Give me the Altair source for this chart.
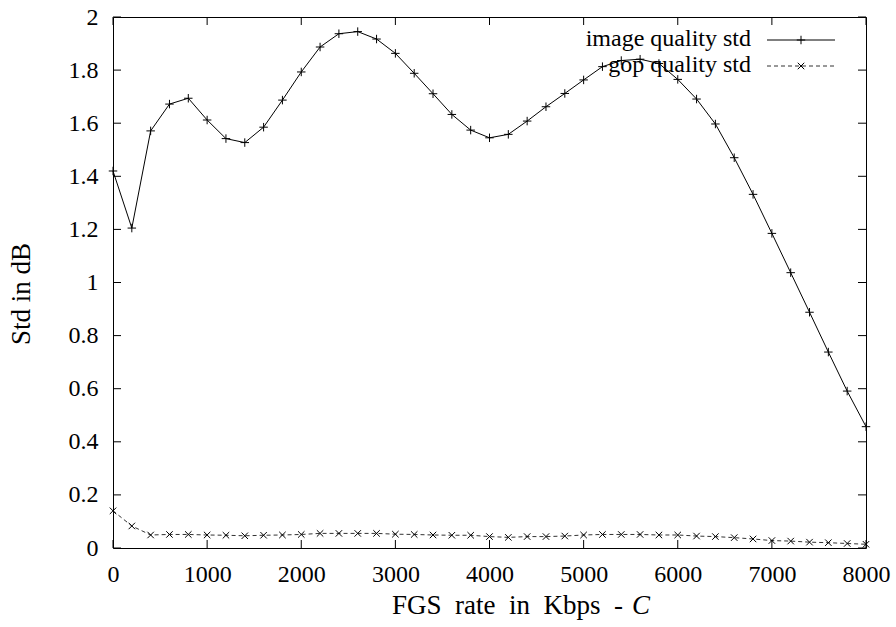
import altair as alt
import pandas as pd

# FGS rate (Kbps), sampled every 200 Kbps
rate = list(range(0, 8001, 200))

image_std = [
    1.42, 1.205, 1.571, 1.672, 1.694, 1.612, 1.542, 1.527, 1.585, 1.687,
    1.793, 1.887, 1.937, 1.945, 1.917, 1.863, 1.788, 1.711, 1.633, 1.574,
    1.545, 1.558, 1.608, 1.662, 1.712, 1.763, 1.813, 1.836, 1.841, 1.825,
    1.765, 1.691, 1.597, 1.470, 1.332, 1.185, 1.037, 0.888, 0.738, 0.591,
    0.457,
]

gop_std = [
    0.140, 0.083, 0.049, 0.051, 0.051, 0.049, 0.048, 0.046, 0.048, 0.049,
    0.051, 0.055, 0.055, 0.055, 0.055, 0.052, 0.051, 0.049, 0.048, 0.048,
    0.043, 0.040, 0.043, 0.043, 0.045, 0.049, 0.051, 0.051, 0.051, 0.049,
    0.049, 0.045, 0.043, 0.039, 0.034, 0.028, 0.026, 0.022, 0.020, 0.017,
    0.014,
]

series_names = ["image quality std", "gop quality std"]

x_ticks = list(range(0, 8001, 1000))
y_ticks = [0, 0.2, 0.4, 0.6, 0.8, 1.0, 1.2, 1.4, 1.6, 1.8, 2.0]

W, H = 753, 531
FONT = "Liberation Serif"
PLUS = "M-1,0L1,0M0,-1L0,1"
CROSS = "M-1,-1L1,1M-1,1L1,-1"
TICK = 8

df = pd.DataFrame({"rate": rate, "image": image_std, "gop": gop_std})
xt = pd.DataFrame({"v": x_ticks})
yt = pd.DataFrame({"v": y_ticks})
one = pd.DataFrame({"k": [0]})

xscale = alt.Scale(domain=[0, 8000], nice=False, zero=False)
yscale = alt.Scale(domain=[0, 2], nice=False, zero=False)

x_axis = alt.Axis(values=x_ticks, format="d", ticks=False, domain=False, grid=False,
                  labelFont=FONT, labelFontSize=24, labelColor="black",
                  labelPadding=14, labelFlush=False, title=None)
y_axis = alt.Axis(values=y_ticks, format="~g", ticks=False, domain=False, grid=False,
                  labelFont=FONT, labelFontSize=24, labelColor="black",
                  labelPadding=15, labelFlush=False, title=None)

base = alt.Chart(df)

img_line = base.mark_line(color="black", strokeWidth=1).encode(
    x=alt.X("rate:Q", scale=xscale, axis=x_axis),
    y=alt.Y("image:Q", scale=yscale, axis=y_axis),
)
img_pts = base.mark_point(shape=PLUS, size=72, filled=False, color="black",
                          strokeWidth=1, opacity=1).encode(
    x=alt.X("rate:Q", scale=xscale), y=alt.Y("image:Q", scale=yscale))

gop_line = base.mark_line(color="#333333", strokeWidth=1, strokeDash=[4, 3]).encode(
    x=alt.X("rate:Q", scale=xscale), y=alt.Y("gop:Q", scale=yscale))
gop_pts = base.mark_point(shape=CROSS, size=42, filled=False, color="black",
                          strokeWidth=1, opacity=1).encode(
    x=alt.X("rate:Q", scale=xscale), y=alt.Y("gop:Q", scale=yscale))

# inward ticks on all four sides of the frame
tick_style = dict(color="black", strokeWidth=1)
ticks_bottom = alt.Chart(xt).mark_rule(**tick_style).encode(
    x=alt.X("v:Q", scale=xscale), y=alt.value(H), y2=alt.value(H - TICK))
ticks_top = alt.Chart(xt).mark_rule(**tick_style).encode(
    x=alt.X("v:Q", scale=xscale), y=alt.value(0), y2=alt.value(TICK))
ticks_left = alt.Chart(yt).mark_rule(**tick_style).encode(
    y=alt.Y("v:Q", scale=yscale), x=alt.value(0), x2=alt.value(TICK))
ticks_right = alt.Chart(yt).mark_rule(**tick_style).encode(
    y=alt.Y("v:Q", scale=yscale), x=alt.value(W), x2=alt.value(W - TICK))


def label(text, size, **kw):
    return alt.Chart(one).mark_text(
        text=text, font=FONT, fontSize=size, fontWeight="normal",
        fill="black", strokeWidth=0, **kw)


# axis titles
NB = "\u00a0"
y_title = label("Std in dB", 27, angle=270, align="center", baseline="middle").encode(
    x=alt.value(-91), y=alt.value(277))
x_title = label(f"FGS{NB}{NB}rate{NB}{NB}in{NB}{NB}Kbps{NB}{NB}-", 27,
                align="right", baseline="alphabetic").encode(
    x=alt.value(510), y=alt.value(597))
x_title_c = label("C", 27, fontStyle="italic", align="left",
                  baseline="alphabetic").encode(x=alt.value(519), y=alt.value(597))

# key in the upper right corner
leg_text_1 = label(series_names[0], 24, align="right", baseline="middle").encode(
    x=alt.value(638), y=alt.value(22))
leg_line_1 = alt.Chart(one).mark_rule(color="black", strokeWidth=1).encode(
    x=alt.value(654), x2=alt.value(722), y=alt.value(23))
leg_pt_1 = alt.Chart(one).mark_point(shape=PLUS, size=72, filled=False, color="black",
                                     strokeWidth=1, opacity=1).encode(
    x=alt.value(688), y=alt.value(23))
leg_text_2 = label(series_names[1], 24, align="right", baseline="middle").encode(
    x=alt.value(638), y=alt.value(48))
leg_line_2 = alt.Chart(one).mark_rule(color="#333333", strokeWidth=1,
                                      strokeDash=[4, 3]).encode(
    x=alt.value(654), x2=alt.value(722), y=alt.value(49))
leg_pt_2 = alt.Chart(one).mark_point(shape=CROSS, size=42, filled=False, color="black",
                                     strokeWidth=1, opacity=1).encode(
    x=alt.value(688), y=alt.value(49))

chart = alt.layer(
    img_line, img_pts, gop_line, gop_pts,
    ticks_bottom, ticks_top, ticks_left, ticks_right,
    y_title, x_title, x_title_c,
    leg_text_1, leg_line_1, leg_pt_1, leg_text_2, leg_line_2, leg_pt_2,
).properties(
    width=W, height=H,
    autosize=alt.AutoSizeParams(type="none"),
    padding={"left": 113, "top": 17, "right": 30, "bottom": 79},
    background="white",
).configure_view(stroke="black", strokeWidth=1)

chart.save("out.html", embed_options={"renderer": "svg", "actions": False})
